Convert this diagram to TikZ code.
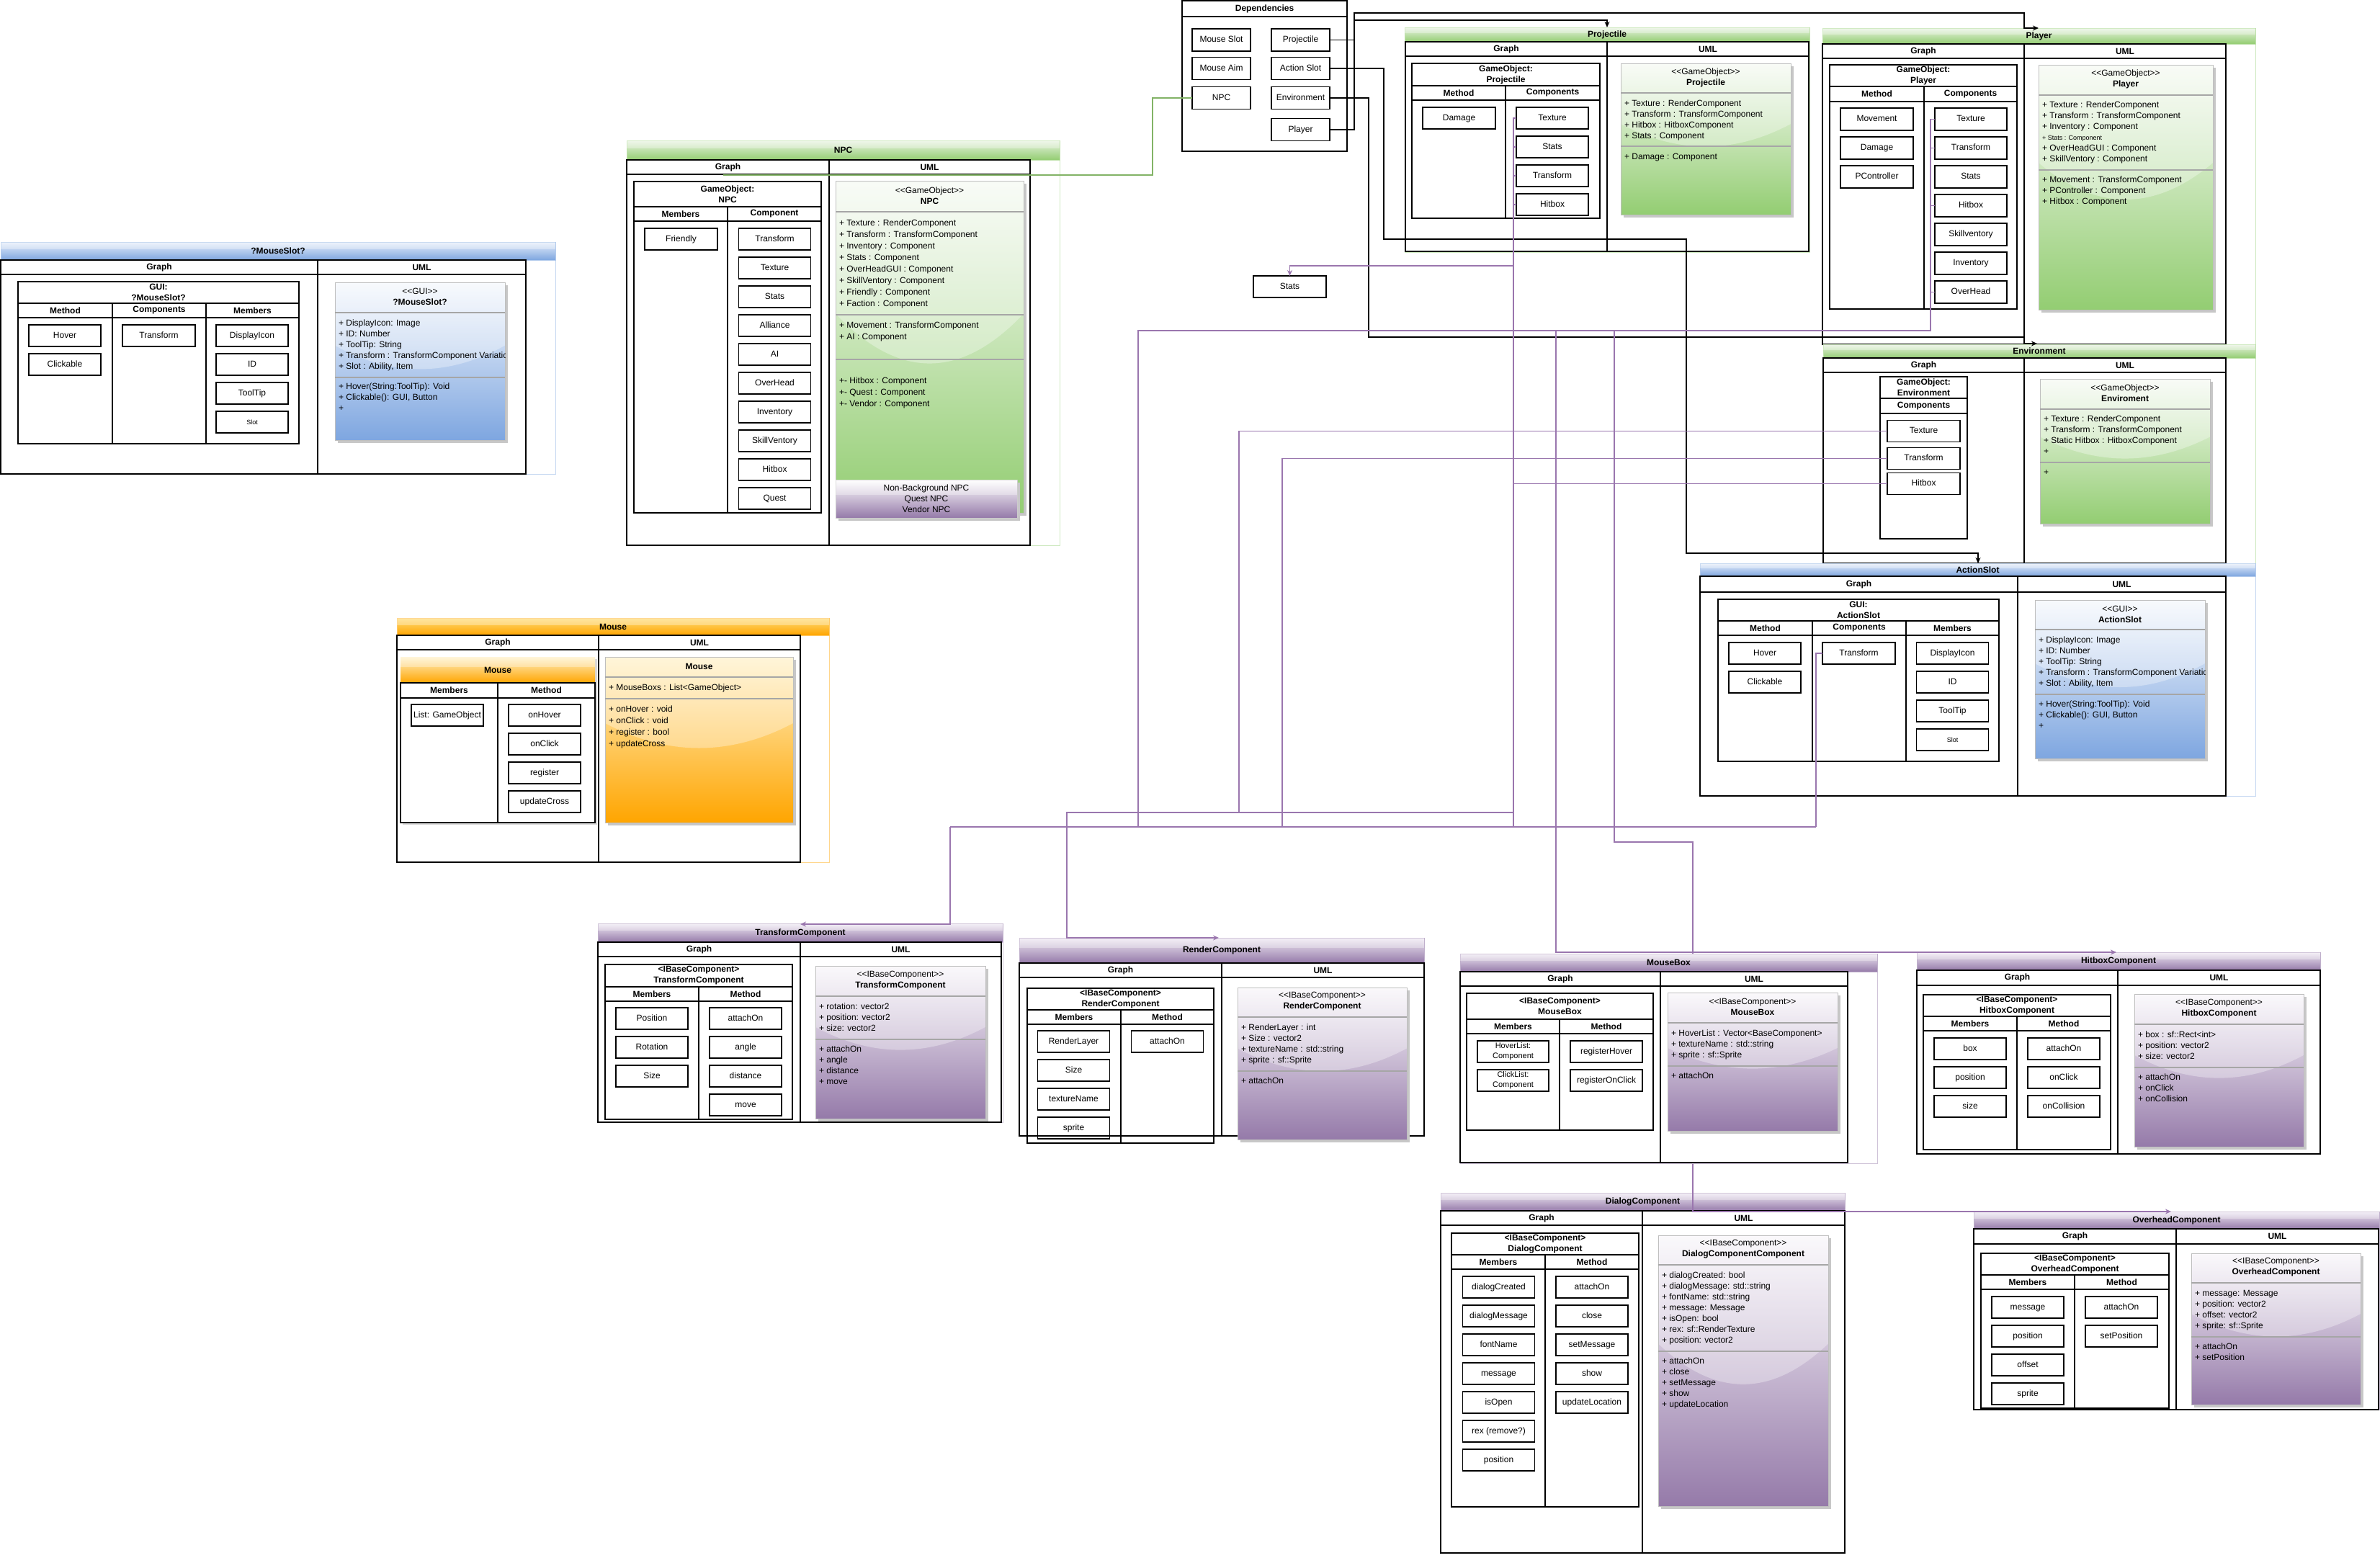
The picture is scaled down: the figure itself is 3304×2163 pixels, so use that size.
\documentclass[tikz,border=0pt]{standalone}
\usepackage{fontspec}
\newfontfamily\lsans{Liberation Sans}
\usetikzlibrary{arrows.meta}

\definecolor{greenL}{HTML}{E9F3E2}
\definecolor{greenD}{HTML}{93CD72}
\definecolor{blueL}{HTML}{E6EEFA}
\definecolor{blueD}{HTML}{7EA6E0}
\definecolor{orangeL}{HTML}{FFDD77}
\definecolor{orangeD}{HTML}{FFA500}
\definecolor{purpleL}{HTML}{EFE9F3}
\definecolor{purpleD}{HTML}{957AA9}
\definecolor{linkP}{HTML}{9A76AE}
\definecolor{linkG}{HTML}{82B366}
\definecolor{umlsep}{HTML}{A6A6A6}

\newcommand\dtxt{\lsans\fontsize{12}{15}\selectfont}
\newcommand\dtxtb{\lsans\bfseries\fontsize{12}{15}\selectfont}
\newcommand\dtxts{\lsans\fontsize{9}{11}\selectfont}

\tikzset{
  every node/.style={font=\dtxt, inner sep=0pt, outer sep=0pt},
  tframe/.style={draw=black, line width=1.3pt},
  cbox/.style={draw=black, line width=1.2pt, minimum width=100pt, minimum height=30pt,
    text height=8.6pt, text depth=2.4pt, align=center},
  cboxtwo/.style={draw=black, line width=1.2pt, minimum width=99pt, minimum height=30pt,
    align=center, font=\lsans\fontsize{11}{14}\selectfont},
  dbox/.style={cbox, minimum width=81pt, minimum height=31pt},
  hb/.style={font=\dtxtb},
  blk/.style={draw=black, line width=1.3pt},
  plink/.style={draw=linkP, line width=1.2pt},
  glink/.style={draw=linkG, line width=1.2pt},
  arrowend/.style={-{Stealth[length=8pt,width=7pt]}},
}

% container with a shaded title band: name, x1, y1, x2, title bottom, bottom, title, colour
\newcommand\lane[8]{%
  \draw[#8D!45, line width=1pt] (#2,#3) rectangle (#4,#6);
  \shade[top color=#8L, bottom color=#8D, draw=#8D!60, line width=0.6pt] (#2,#3) rectangle (#4,#5);
  \fill[white, opacity=0.3] (#2,#3) rectangle (#4,{#3+0.4*(#5-#3)});
  \node[hb] (#1-title) at ({(#2+#4)/2},{(#3+#5)/2}) {#7};
}
% Graph / UML frame: name, x1, y1, divider x, x2, header bottom, bottom
\newcommand\gframe[7]{%
  \draw[tframe] (#2,#3) rectangle (#5,#7);
  \draw[tframe] (#2,#6) -- (#5,#6) (#4,#3) -- (#4,#7);
  \node[hb] (#1-graph) at ({(#2+#4)/2},{(#3+#6)/2}) {Graph};
  \node[hb] (#1-uml) at ({(#4+#5)/2},{(#3+#6)/2}) {UML};
}
% object table: name, x1, y1, x2, y2, title bottom, column header bottom, title
\newcommand\otable[8]{%
  \draw[tframe] (#2,#3) rectangle (#4,#5);
  \draw[tframe] (#2,#6) -- (#4,#6) (#2,#7) -- (#4,#7);
  \node[hb, align=center] (#1-head) at ({(#2+#4)/2},{(#3+#6)/2}) {#8};
}
% column header: name, left x, right x, top y, bottom y, text
\newcommand\ocol[6]{\node[hb] (#1) at ({(#2+#3)/2},{(#4+#5)/2}) {#6};}
% class box with a glassy top: name, x1, y1, x2, y2, header bottom, attribute bottom, colour, header text
\newcommand\umlbox[9]{%
  \fill[black!22] ({#2+4},{#3+4}) rectangle ({#4+4},{#5+4});
  \shade[top color=#8L!40!white, bottom color=#8D] (#2,#3) rectangle (#4,#5);
  \fill[white, opacity=0.32] (#2,#3) -- (#2,{#3+0.4*(#5-#3)})
    .. controls ({#2+(#4-#2)/3},{#3+0.6*(#5-#3)}) and ({#4-(#4-#2)/3},{#3+0.6*(#5-#3)}) ..
    (#4,{#3+0.4*(#5-#3)}) -- (#4,#3) -- cycle;
  \draw[black!25, line width=0.8pt] (#2,#3) rectangle (#4,#5);
  \draw[umlsep, line width=1.2pt] (#2,#6) -- (#4,#6) (#2,#7) -- (#4,#7);
  \node[align=center] (#1-head) at ({(#2+#4)/2},{(#3+#6)/2-1}) {#9};
}
% member lines: name, x, centre of first line, step, list
\newcommand\ulines[5]{%
  \foreach \t [count=\i from 0] in {#5}{%
    \node[anchor=base west] (#1-\i) at (#2,{#3+4+#4*\i}) {\t};
  }%
}

\begin{document}
\begin{tikzpicture}[x=1pt,y=-1pt]
\useasboundingbox (0,0) rectangle (3304,2163);
\fill[white] (0,0) rectangle (3304,2163);

% ---------------- Dependencies ----------------
\draw[tframe] (1641,1) rectangle (1870,210);
\draw[tframe] (1641,23) -- (1870,23);
\node[hb] (dep-title) at (1755.5,12) {Dependencies};
\node[dbox] (depMS) at (1695.5,55.5) {Mouse Slot};
\node[dbox] (depMA) at (1695.5,95) {Mouse Aim};
\node[dbox] (depNPC) at (1695.5,136) {NPC};
\node[dbox] (depProj) at (1805.5,55.5) {Projectile};
\node[dbox] (depAct) at (1805.5,95) {Action Slot};
\node[dbox] (depEnv) at (1805.5,136) {Environment};
\node[dbox] (depPlayer) at (1805.5,180) {Player};

\node[cbox, minimum width=101pt] (stats) at (1790.5,398) {Stats};

% ---------------- Projectile ----------------
\lane{pj}{1950}{38}{2512}{58}{350}{Projectile}{green}
\gframe{pj}{1951}{58}{2231}{2511}{78}{349}
\otable{pjo}{1960}{88}{2221}{303}{119}{139}{GameObject:\\Projectile}
\draw[tframe] (2090,119) -- (2090,303);
\ocol{pjo-c1}{1960}{2090}{119}{139}{Method}
\ocol{pjo-c2}{2090}{2221}{119}{139}{Components}
\node[cbox, minimum width=101pt] (pjDam) at (2025.5,164) {Damage};
\node[cbox] (pjTex) at (2155,164) {Texture};
\node[cbox] (pjSt) at (2155,204) {Stats};
\node[cbox] (pjTr) at (2155,244) {Transform};
\node[cbox] (pjHit) at (2155,284) {Hitbox};
\umlbox{pju}{2250}{88}{2486}{298}{129}{203}{green}{<<GameObject>>\\\textbf{Projectile}}
\ulines{pjua}{2255}{143}{15}{{+ Texture : RenderComponent},{+ Transform : TransformComponent},{+ Hitbox : HitboxComponent},{+ Stats : Component}}
\ulines{pjum}{2255}{217}{15}{{+ Damage : Component}}

% ---------------- Player ----------------
\lane{pl}{2530}{39}{3131}{61}{478}{Player}{green}
\gframe{pl}{2530}{61}{2810}{3090}{81}{478}
\otable{plo}{2540}{90}{2800}{429}{120}{141}{GameObject:\\Player}
\draw[tframe] (2671,120) -- (2671,429);
\ocol{plo-c1}{2540}{2671}{120}{141}{Method}
\ocol{plo-c2}{2671}{2800}{120}{141}{Components}
\node[cbox, minimum width=101pt, minimum height=31pt] (plMov) at (2605.5,165.5) {Movement};
\node[cbox, minimum width=101pt, minimum height=31pt] (plDam) at (2605.5,205.5) {Damage};
\node[cbox, minimum width=101pt, minimum height=31pt] (plPC) at (2605.5,245.5) {PController};
\node[cbox, minimum height=31pt] (plTex) at (2736,165.5) {Texture};
\node[cbox, minimum height=31pt] (plTr) at (2736,205.5) {Transform};
\node[cbox, minimum height=31pt] (plSt) at (2736,245.5) {Stats};
\node[cbox, minimum height=31pt] (plHit) at (2736,285.5) {Hitbox};
\node[cbox, minimum height=31pt] (plSkill) at (2736,325.5) {Skillventory};
\node[cbox, minimum height=31pt] (plInv) at (2736,365.5) {Inventory};
\node[cbox, minimum height=31pt] (plOver) at (2736,405.5) {OverHead};
\umlbox{plu}{2830}{90}{3072}{430}{132}{236}{green}{<<GameObject>>\\\textbf{Player}}
\ulines{plua}{2835}{145}{15}{{+ Texture : RenderComponent},{+ Transform : TransformComponent},{+ Inventory : Component},{\dtxts + Stats : Component},{+ OverHeadGUI : Component},{+ SkillVentory : Component}}
\ulines{plum}{2835}{249}{15}{{+ Movement : TransformComponent},{+ PController : Component},{+ Hitbox : Component}}

% ---------------- NPC ----------------
\lane{np}{870}{195}{1471}{222}{757}{NPC}{green}
\gframe{np}{870}{222}{1151}{1430}{242}{757}
\otable{npo}{880}{252}{1140}{712}{287}{307}{GameObject:\\NPC}
\draw[tframe] (1010,287) -- (1010,712);
\ocol{npo-c1}{880}{1010}{287}{307}{Members}
\ocol{npo-c2}{1010}{1140}{287}{307}{Component}
\node[cbox, minimum width=101pt] (npFr) at (945.5,332) {Friendly};
\foreach \lab [count=\k from 0] in {Transform,Texture,Stats,Alliance,AI,OverHead,Inventory,SkillVentory,Hitbox,Quest}
  \node[cbox] (npc\k) at (1075.5,{332+40*\k}) {\lab};
\umlbox{npu}{1160}{251}{1421}{712}{294}{437}{green}{<<GameObject>>\\\textbf{NPC}}
\draw[umlsep, line width=1.2pt] (1160,499) -- (1421,499);
\ulines{npua}{1165}{309}{16}{{+ Texture : RenderComponent},{+ Transform : TransformComponent},{+ Inventory : Component},{+ Stats : Component},{+ OverHeadGUI : Component},{+ SkillVentory : Component},{+ Friendly : Component},{+ Faction : Component}}
\ulines{npum}{1165}{451}{16}{{+ Movement : TransformComponent},{+ AI : Component}}
\ulines{npux}{1165}{528}{16}{{+- Hitbox : Component},{+- Quest : Component},{+- Vendor : Component}}
\fill[black!22] (1164,670) rectangle (1416,723);
\shade[top color=white, bottom color=purpleD, draw=black!20, line width=0.6pt] (1160,666) rectangle (1412,719);
\fill[white, opacity=0.3] (1160,666) rectangle (1412,687);
\node[align=center, font=\lsans\fontsize{12}{15}\selectfont] (npKinds) at (1286,692) {Non-Background NPC\\Quest NPC\\Vendor NPC};

% ---------------- ?MouseSlot? ----------------
\lane{ms}{1}{336}{771}{361}{658}{?MouseSlot?}{blue}
\gframe{ms}{1}{361}{441}{730}{381}{658}
\otable{mso}{25}{391}{415}{616}{421}{441}{GUI:\\?MouseSlot?}
\draw[tframe] (156,421) -- (156,616) (286,421) -- (286,616);
\ocol{mso-c1}{25}{156}{421}{441}{Method}
\ocol{mso-c2}{156}{286}{421}{441}{Components}
\ocol{mso-c3}{286}{415}{421}{441}{Members}
\node[cbox] (msHov) at (90,466) {Hover};
\node[cbox] (msClk) at (90,506) {Clickable};
\node[cbox, minimum width=101pt] (msTr) at (220.5,466) {Transform};
\node[cbox] (msIcon) at (350,466) {DisplayIcon};
\node[cbox] (msID) at (350,506) {ID};
\node[cbox] (msTip) at (350,546) {ToolTip};
\node[cbox, font=\dtxts] (msSlot) at (350,586) {Slot};
\umlbox{msu}{465}{392}{701}{611}{434}{524}{blue}{<<GUI>>\\\textbf{?MouseSlot?}}
\begin{scope}
\clip (465,392) rectangle (701,611);
\ulines{msua}{470}{448}{15}{{+ DisplayIcon: Image},{+ ID: Number},{+ ToolTip: String},{+ Transform : TransformComponent Variation},{+ Slot : Ability, Item}}
\ulines{msum}{470}{536}{15}{{+ Hover(String:ToolTip): Void},{+ Clickable(): GUI, Button},{+}}
\end{scope}

% ---------------- Environment ----------------
\lane{en}{2531}{478}{3131}{497}{782}{Environment}{green}
\gframe{en}{2531}{497}{2810}{3090}{517}{782}
\otable{eno}{2610}{523}{2731}{748}{553}{574}{GameObject:\\Environment}
\ocol{eno-c1}{2610}{2731}{553}{574}{Components}
\node[cbox, minimum width=101pt] (enTex) at (2670.5,598.5) {Texture};
\node[cbox, minimum width=101pt] (enTr) at (2670.5,636.5) {Transform};
\node[cbox, minimum width=101pt] (enHit) at (2670.5,671.5) {Hitbox};
\umlbox{enu}{2832}{526}{3068}{727}{568}{642}{green}{<<GameObject>>\\\textbf{Enviroment}}
\ulines{enua}{2837}{581}{15}{{+ Texture : RenderComponent},{+ Transform : TransformComponent},{+ Static Hitbox : HitboxComponent},{+}}
\ulines{enum}{2837}{655}{15}{{+}}

% ---------------- ActionSlot ----------------
\lane{as}{2360}{782}{3131}{800}{1105}{ActionSlot}{blue}
\gframe{as}{2360}{800}{2801}{3090}{822}{1105}
\otable{aso}{2385}{832}{2775}{1057}{862}{882}{GUI:\\ActionSlot}
\draw[tframe] (2516,862) -- (2516,1057) (2646,862) -- (2646,1057);
\ocol{aso-c1}{2385}{2516}{862}{882}{Method}
\ocol{aso-c2}{2516}{2646}{862}{882}{Components}
\ocol{aso-c3}{2646}{2775}{862}{882}{Members}
\node[cbox] (asHov) at (2450,907) {Hover};
\node[cbox] (asClk) at (2450,947) {Clickable};
\node[cbox, minimum width=101pt] (asTr) at (2580.5,907) {Transform};
\node[cbox] (asIcon) at (2710.5,907) {DisplayIcon};
\node[cbox] (asID) at (2710.5,947) {ID};
\node[cbox] (asTip) at (2710.5,987) {ToolTip};
\node[cbox, font=\dtxts] (asSlot) at (2710.5,1027) {Slot};
\umlbox{asu}{2825}{833}{3061}{1053}{874}{964}{blue}{<<GUI>>\\\textbf{ActionSlot}}
\begin{scope}
\clip (2825,833) rectangle (3061,1053);
\ulines{asua}{2830}{888}{15}{{+ DisplayIcon: Image},{+ ID: Number},{+ ToolTip: String},{+ Transform : TransformComponent Variation},{+ Slot : Ability, Item}}
\ulines{asum}{2830}{977}{15}{{+ Hover(String:ToolTip): Void},{+ Clickable(): GUI, Button},{+}}
\end{scope}

% ---------------- Mouse ----------------
\lane{mo}{551}{858}{1151}{882}{1197}{Mouse}{orange}
\gframe{mo}{551}{882}{831}{1111}{902}{1197}
\fill[black!15] (559,915) rectangle (829,1145);
\shade[top color=orangeL!40!white, bottom color=orangeD] (556,912) rectangle (826,948);
\fill[white, opacity=0.3] (556,912) rectangle (826,926);
\node[hb] (moo-head) at (691,930) {Mouse};
\draw[tframe, fill=white] (556,948) rectangle (826,1142);
\draw[tframe] (556,969) -- (826,969) (691,948) -- (691,1142);
\ocol{moo-c1}{556}{691}{948}{969}{Members}
\ocol{moo-c2}{691}{826}{948}{969}{Method}
\node[cbox] (moList) at (621,993) {List: GameObject};
\node[cbox] (moHov) at (756,993) {onHover};
\node[cbox] (moClk) at (756,1033) {onClick};
\node[cbox] (moReg) at (756,1073) {register};
\node[cbox] (moUpd) at (756,1113) {updateCross};
\umlbox{mou}{840}{912}{1101}{1142}{940}{970}{orange}{\textbf{Mouse}}
\ulines{moua}{845}{954}{16}{{+ MouseBoxs : List<GameObject>}}
\ulines{moum}{845}{984}{16}{{+ onHover : void},{+ onClick : void},{+ register : bool},{+ updateCross}}

% ---------------- TransformComponent ----------------
\lane{tc}{830}{1282}{1392}{1308}{1558}{TransformComponent}{purple}
\gframe{tc}{830}{1308}{1111}{1390}{1328}{1558}
\otable{tco}{840}{1339}{1100}{1554}{1370}{1390}{<IBaseComponent>\\TransformComponent}
\draw[tframe] (970,1370) -- (970,1554);
\ocol{tco-c1}{840}{970}{1370}{1390}{Members}
\ocol{tco-c2}{970}{1100}{1370}{1390}{Method}
\node[cbox] (tcPos) at (905,1414) {Position};
\node[cbox] (tcRot) at (905,1454) {Rotation};
\node[cbox] (tcSize) at (905,1494) {Size};
\node[cbox] (tcAtt) at (1035,1414) {attachOn};
\node[cbox] (tcAng) at (1035,1454) {angle};
\node[cbox] (tcDist) at (1035,1494) {distance};
\node[cbox] (tcMove) at (1035,1534) {move};
\umlbox{tcu}{1132}{1341}{1368}{1553}{1383}{1443}{purple}{<<IBaseComponent>>\\\textbf{TransformComponent}}
\ulines{tcua}{1137}{1397}{15}{{+ rotation: vector2},{+ position: vector2},{+ size: vector2}}
\ulines{tcum}{1137}{1456}{15}{{+ attachOn},{+ angle},{+ distance},{+ move}}

% ---------------- RenderComponent ----------------
\lane{rc}{1415}{1302}{1977}{1337}{1577}{RenderComponent}{purple}
\gframe{rc}{1415}{1337}{1696}{1977}{1357}{1577}
\otable{rco}{1426}{1372}{1685}{1587}{1402}{1422}{<IBaseComponent>\\RenderComponent}
\draw[tframe] (1556,1402) -- (1556,1587);
\ocol{rco-c1}{1426}{1556}{1402}{1422}{Members}
\ocol{rco-c2}{1556}{1685}{1402}{1422}{Method}
\node[cbox] (rcLay) at (1490.5,1446) {RenderLayer};
\node[cbox] (rcSize) at (1490.5,1486) {Size};
\node[cbox] (rcTex) at (1490.5,1526) {textureName};
\node[cbox] (rcSpr) at (1490.5,1566) {sprite};
\node[cbox] (rcAtt) at (1620.5,1446) {attachOn};
\umlbox{rcu}{1718}{1371}{1953}{1582}{1412}{1487}{purple}{<<IBaseComponent>>\\\textbf{RenderComponent}}
\ulines{rcua}{1723}{1426}{15}{{+ RenderLayer : int},{+ Size : vector2},{+ textureName : std::string},{+ sprite : sf::Sprite}}
\ulines{rcum}{1723}{1500}{15}{{+ attachOn}}

% ---------------- HitboxComponent ----------------
\lane{hx}{2661}{1322}{3221}{1347}{1602}{HitboxComponent}{purple}
\gframe{hx}{2661}{1347}{2940}{3221}{1368}{1602}
\otable{hxo}{2670}{1381}{2930}{1596}{1411}{1431}{<IBaseComponent>\\HitboxComponent}
\draw[tframe] (2800,1411) -- (2800,1596);
\ocol{hxo-c1}{2670}{2800}{1411}{1431}{Members}
\ocol{hxo-c2}{2800}{2930}{1411}{1431}{Method}
\node[cbox] (hxBox) at (2735,1456) {box};
\node[cbox] (hxPos) at (2735,1496) {position};
\node[cbox] (hxSize) at (2735,1536) {size};
\node[cbox] (hxAtt) at (2865,1456) {attachOn};
\node[cbox] (hxClk) at (2865,1496) {onClick};
\node[cbox] (hxCol) at (2865,1536) {onCollision};
\umlbox{hxu}{2963}{1380}{3198}{1592}{1422}{1482}{purple}{<<IBaseComponent>>\\\textbf{HitboxComponent}}
\ulines{hxua}{2968}{1436}{15}{{+ box : sf::Rect<int>},{+ position: vector2},{+ size: vector2}}
\ulines{hxum}{2968}{1495}{15}{{+ attachOn},{+ onClick},{+ onCollision}}

% ---------------- DialogComponent ----------------
\lane{dc}{2000}{1656}{2561}{1681}{2156}{DialogComponent}{purple}
\gframe{dc}{2000}{1681}{2280}{2561}{1701}{2156}
\otable{dco}{2015}{1712}{2275}{2092}{1742}{1762}{<IBaseComponent>\\DialogComponent}
\draw[tframe] (2145,1742) -- (2145,2092);
\ocol{dco-c1}{2015}{2145}{1742}{1762}{Members}
\ocol{dco-c2}{2145}{2275}{1742}{1762}{Method}
\foreach \lab [count=\k from 0] in {dialogCreated,dialogMessage,fontName,message,isOpen,rex (remove?),position}
  \node[cbox] (dcm\k) at (2080.5,{1787+40*\k}) {\lab};
\foreach \lab [count=\k from 0] in {attachOn,close,setMessage,show,updateLocation}
  \node[cbox] (dcf\k) at (2210,{1787+40*\k}) {\lab};
\umlbox{dcu}{2302}{1715}{2538}{2091}{1756}{1876}{purple}{<<IBaseComponent>>\\\textbf{DialogComponentComponent}}
\ulines{dcua}{2307}{1770}{15}{{+ dialogCreated: bool},{+ dialogMessage: std::string},{+ fontName: std::string},{+ message: Message},{+ isOpen: bool},{+ rex: sf::RenderTexture},{+ position: vector2}}
\ulines{dcum}{2307}{1889}{15}{{+ attachOn},{+ close},{+ setMessage},{+ show},{+ updateLocation}}

% ---------------- OverheadComponent ----------------
\lane{oh}{2740}{1682}{3303}{1706}{1957}{OverheadComponent}{purple}
\gframe{oh}{2740}{1706}{3021}{3302}{1727}{1957}
\otable{oho}{2750}{1740}{3011}{1955}{1770}{1790}{<IBaseComponent>\\OverheadComponent}
\draw[tframe] (2880,1770) -- (2880,1955);
\ocol{oho-c1}{2750}{2880}{1770}{1790}{Members}
\ocol{oho-c2}{2880}{3011}{1770}{1790}{Method}
\node[cbox] (ohMsg) at (2815,1815) {message};
\node[cbox] (ohPos) at (2815,1855) {position};
\node[cbox] (ohOff) at (2815,1895) {offset};
\node[cbox] (ohSpr) at (2815,1935) {sprite};
\node[cbox] (ohAtt) at (2945,1815) {attachOn};
\node[cbox] (ohSet) at (2945,1855) {setPosition};
\umlbox{ohu}{3042}{1740}{3277}{1950}{1781}{1856}{purple}{<<IBaseComponent>>\\\textbf{OverheadComponent}}
\ulines{ohua}{3047}{1795}{15}{{+ message: Message},{+ position: vector2},{+ offset: vector2},{+ sprite: sf::Sprite}}
\ulines{ohum}{3047}{1869}{15}{{+ attachOn},{+ setPosition}}

% ---------------- dependency links ----------------
\coordinate (pj-in) at (2231,38);
\coordinate (pl-in) at (2830,39);
\coordinate (en-in) at (2828,477);
\coordinate (as-in) at (2746,782);
\coordinate (np-in) at (1004,243);
\draw[blk, arrowend] (depProj.east) -| (1880,28) -| (pj-in);
\draw[blk, arrowend] (depPlayer.east) -| (1880,18) -| (2810,39) -- (pl-in);
\draw[blk, arrowend] (depAct.east) -| (1921,332) -| (2341,768) -| (as-in);
\draw[blk, arrowend] (depEnv.east) -| (1900,468) -| (2810,477) -- (en-in);
\draw[glink] (depNPC.west) -| (1600,243) -- (np-in);

% ---------------- component links ----------------
\coordinate (tc-in) at (1111,1283);
\coordinate (rc-in) at (1692,1302);
\coordinate (hx-in) at (2938,1322);
\coordinate (oh-in) at (3014,1682);
% projectile components
\draw[plink] (pjTex.west) -- ++(-4,0) -- (2101,1148);
\foreach \b in {pjSt,pjTr,pjHit} \draw[plink] (\b.west) -- ++(-4,0);
\draw[plink, arrowend] (2101,369) -| (stats.north);
% player components
\draw[plink] (plTex.west) -- ++(-6,0) -- (2680,459) -- (1580,459) -- (1580,1148);
\foreach \b in {plTr,plHit,plOver} \draw[plink] (\b.west) -- ++(-6,0);
% transform bus
\draw[plink] (1319,1148) -- (2521,1148);
\draw[plink, arrowend] (1319,1148) -- (1319,1283) -- (tc-in);
\draw[plink] (asTr.west) -- ++(-9,0) -- (2521,1148);
% environment components
\draw[plink, arrowend] (enTex.west) -- (1720,598.5) -- (1720,1128) -- (1481,1128) -- (1481,1302) -- (rc-in);
\draw[plink] (1720,1128) -- (2101,1128);
\draw[plink] (enTr.west) -| (1780,1148);
\draw[plink] (enHit.west) -- (2101,671.5);
% hitbox and overhead links
\draw[plink, arrowend] (2160,459) -- (2160,1322) -- (hx-in);
\draw[plink, arrowend] (2241,459) -- (2241,1169) -- (2350,1169) -- (2350,1682) -- (oh-in);

% ---------------- MouseBox (drawn over the links) ----------------
\fill[white] (2027,1324) rectangle (2606,1615);
\lane{mb}{2027}{1324}{2606}{1349}{1615}{MouseBox}{purple}
\gframe{mb}{2027}{1349}{2305}{2565}{1369}{1614}
\otable{mbo}{2036}{1379}{2295}{1569}{1415}{1435}{<IBaseComponent>\\MouseBox}
\draw[tframe] (2165,1415) -- (2165,1569);
\ocol{mbo-c1}{2036}{2165}{1415}{1435}{Members}
\ocol{mbo-c2}{2165}{2295}{1415}{1435}{Method}
\node[cboxtwo] (mbHover) at (2100.5,1460) {HoverList:\\Component};
\node[cboxtwo] (mbClick) at (2100.5,1500) {ClickList:\\Component};
\node[cbox] (mbRegH) at (2230,1460) {registerHover};
\node[cbox] (mbRegC) at (2230,1500) {registerOnClick};
\umlbox{mbu}{2315}{1378}{2551}{1570}{1420}{1480}{purple}{<<IBaseComponent>>\\\textbf{MouseBox}}
\ulines{mbua}{2320}{1434}{15}{{+ HoverList : Vector<BaseComponent>},{+ textureName : std::string},{+ sprite : sf::Sprite}}
\ulines{mbum}{2320}{1493}{15}{{+ attachOn}}

\end{tikzpicture}
\end{document}
